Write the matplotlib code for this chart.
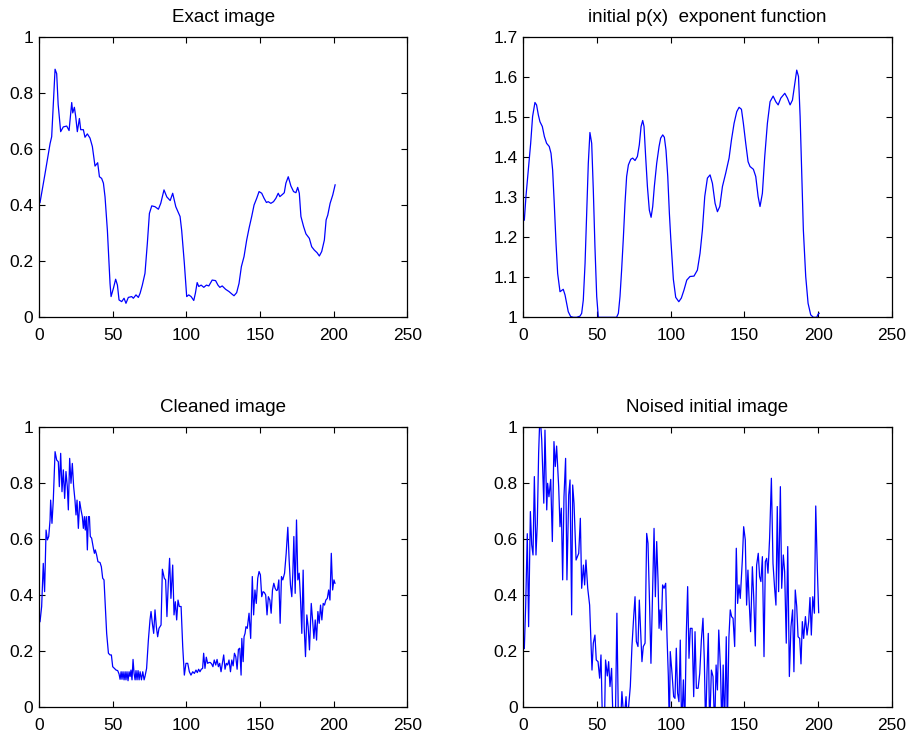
import matplotlib
matplotlib.use("Agg")
import matplotlib.pyplot as plt
from matplotlib.ticker import FuncFormatter

plt.rcParams['font.family'] = ['Liberation Sans', 'DejaVu Sans']

# ---------------- data ----------------
ex_x = [0.7, 4, 7.5, 8.6, 10.9, 12, 13, 14.7, 16.5, 18.8, 20.4, 22.2, 22.9, 24, 24.9, 26, 27.4, 28.3, 30.1, 31.2,
        32.8, 34.6, 36.2, 38, 39.8, 41, 42.5, 43.7, 44.8, 46.4, 48.2, 48.9, 50.5, 52, 53.2, 54.3, 56.1, 57.7, 59, 60.6,
        62.9, 64, 65.8, 67.4, 68.6, 70.1, 71.9, 73.5, 74.9, 76.5, 78.7, 81, 82.6, 84.8, 86.7, 89, 90.7, 92.8, 95.7, 96.8,
        98.6, 100.2, 101.6, 103.2, 105, 106.1, 107.3, 108.4, 110, 111.8, 113.6, 115.2, 117.5, 119.8, 121.4, 122.7, 124.3,
        126.6, 128.9, 131.1, 132.3, 134.1, 135.7, 137.3, 139.1, 140.9, 142.5, 144.3, 145.9, 147.7, 149.3, 151.1, 152.7,
        154.3, 155.5, 157.3, 159.1, 160.7, 162.3, 163.4, 165.2, 166.4, 167.5, 169.1, 170.9, 172.7, 174.3, 175.5, 176.6,
        177.7, 179.5, 181.1, 183.4, 185, 186.8, 188.6, 190.2, 191.8, 193.6, 194.8, 195.9, 197.5, 199.3, 200.9]
ex_y = [0.41, 0.51, 0.62, 0.645, 0.886, 0.87, 0.76, 0.663, 0.68, 0.683, 0.667, 0.767, 0.73, 0.75, 0.717, 0.663, 0.71,
        0.67, 0.67, 0.643, 0.655, 0.64, 0.61, 0.54, 0.552, 0.502, 0.496, 0.479, 0.43, 0.31, 0.12, 0.074, 0.104, 0.136,
        0.115, 0.062, 0.056, 0.068, 0.05, 0.071, 0.074, 0.068, 0.08, 0.071, 0.086, 0.115, 0.157, 0.264, 0.371, 0.398,
        0.395, 0.386, 0.407, 0.455, 0.43, 0.417, 0.443, 0.395, 0.36, 0.31, 0.193, 0.074, 0.08, 0.074, 0.06, 0.086,
        0.124, 0.11, 0.115, 0.107, 0.115, 0.112, 0.133, 0.131, 0.115, 0.107, 0.112, 0.1, 0.092, 0.082, 0.077, 0.088,
        0.121, 0.181, 0.217, 0.276, 0.318, 0.36, 0.401, 0.425, 0.449, 0.443, 0.425, 0.41, 0.413, 0.407, 0.413, 0.425,
        0.443, 0.431, 0.439, 0.445, 0.479, 0.502, 0.469, 0.449, 0.445, 0.464, 0.443, 0.36, 0.324, 0.298, 0.282, 0.252,
        0.24, 0.231, 0.219, 0.235, 0.276, 0.348, 0.365, 0.407, 0.437, 0.473]

px_x = [0.7, 1.8, 3.4, 5, 6.3, 7.9, 9, 10.2, 11.3, 12.9, 14.3, 15.8, 17.6, 18.8, 19.9, 21, 22.2, 23.3, 24.9, 26, 27.1,
        28.3, 29.4, 30.5, 32.1, 34, 36.2, 38.5, 39.6, 40.7, 41.9, 43, 44.1, 45.2, 46.4, 47.5, 48.6, 49.8, 50.9, 52, 63.3,
        64.5, 65.6, 66.7, 67.9, 69, 70.1, 71.3, 72.9, 74.2, 75.8, 77.4, 78.7, 79.9, 81, 81.9, 83, 84.2, 85.5, 86.7, 87.8,
        88.9, 90.5, 92.1, 93.2, 94.6, 95.7, 96.8, 98, 99.1, 100, 101.8, 103.4, 105.5, 107.2, 109, 110.9, 113.1, 115.8,
        118.1, 119.9, 121.5, 123.1, 124.9, 126.7, 128.3, 130.1, 131.7, 133.3, 135.1, 137.3, 139.6, 141.2, 143, 144.8,
        146.4, 148, 149.3, 150.9, 152.5, 153.8, 156.1, 157.7, 159.3, 160.6, 162.2, 163.8, 165.6, 167.4, 169.5, 171.3,
        172.9, 174.7, 177.4, 179.2, 181, 182.6, 184.2, 185.5, 186.7, 187.8, 188.9, 190, 191.6, 193.2, 195, 196.8,
        199.1, 200, 200.7]
px_y = [1.243, 1.302, 1.368, 1.435, 1.502, 1.537, 1.531, 1.506, 1.489, 1.477, 1.452, 1.435, 1.427, 1.41, 1.368, 1.285,
        1.185, 1.11, 1.064, 1.067, 1.07, 1.056, 1.035, 1.014, 1.002, 1.0, 1.0, 1.003, 1.01, 1.043, 1.135, 1.26, 1.385,
        1.462, 1.435, 1.318, 1.177, 1.052, 1.0, 1.0, 1.0, 1.01, 1.052, 1.118, 1.2, 1.285, 1.352, 1.381, 1.395, 1.398,
        1.392, 1.402, 1.431, 1.477, 1.492, 1.477, 1.402, 1.327, 1.268, 1.25, 1.277, 1.327, 1.385, 1.427, 1.448, 1.456,
        1.45, 1.418, 1.352, 1.26, 1.2, 1.095, 1.05, 1.039, 1.048, 1.068, 1.093, 1.102, 1.103, 1.118, 1.16, 1.218,
        1.302, 1.348, 1.356, 1.335, 1.285, 1.264, 1.277, 1.327, 1.36, 1.398, 1.443, 1.485, 1.514, 1.525, 1.52, 1.485,
        1.435, 1.389, 1.377, 1.37, 1.352, 1.302, 1.277, 1.31, 1.402, 1.485, 1.539, 1.553, 1.539, 1.531, 1.548, 1.56,
        1.548, 1.531, 1.543, 1.585, 1.618, 1.602, 1.502, 1.36, 1.218, 1.102, 1.035, 1.006, 1.0, 1.0, 1.008, 1.01]

cl_x = [0.7, 1.8, 2.9, 3.8, 4.8, 5.7, 6.6, 7.5, 7.9, 8.8, 9.7, 10.9, 12, 13.1, 13.8, 14.7, 15.6, 16.5, 17.4, 18.3,
        19.2, 19.9, 20.8, 21.7, 22.6, 23.5, 24.4, 25.1, 25.8, 26.7, 27.6, 28.5, 29.4, 30.1, 30.8, 31.4, 32.1, 32.8,
        33.5, 34.2, 34.8, 35.7, 36.9, 37.6, 38.2, 39.1, 40, 41.4, 42.3, 43.2, 44.1, 45, 45.9, 47.1, 48.2, 49.1, 50,
        51.1, 52.3, 53.4, 54.3, 55, 55.7, 56.3, 57, 57.7, 58.4, 59, 59.7, 60.4, 61.1, 61.8, 62.4, 63.1, 63.8, 64.5,
        65.2, 65.8, 66.5, 67.2, 67.9, 68.6, 69.5, 70.4, 71.3, 71.9, 73, 74.2, 75.3, 76, 76.9, 77.8, 78.7, 79.6, 80.5,
        81.4, 82.8, 83.7, 85, 85.9, 86.8, 87.7, 88.6, 89.5, 90.7, 91.6, 92.5, 93.4, 94.3, 95.2, 96.4, 97.5, 98.6, 99.7,
        100.9, 102, 103.1, 104.3, 105.4, 106.5, 107.4, 108.3, 109.2, 110.1, 111, 111.7, 112.6, 113.5, 114.4, 115.3,
        116.2, 117.1, 118, 118.9, 119.9, 120.8, 121.7, 122.6, 123.5, 124.4, 125.3, 126.2, 127.1, 128, 128.9, 129.9,
        130.8, 131.7, 132.6, 133.5, 134.4, 135.3, 136.2, 137.1, 137.6, 138.5, 139.1, 139.8, 140.4, 141.3, 142.5, 143.6,
        144.7, 145.6, 146.5, 147.4, 148.4, 149.3, 150.2, 151.1, 152, 152.9, 153.8, 154.7, 155.6, 156.6, 157.5, 158.4,
        159.3, 160.2, 161.1, 161.8, 162.7, 163.6, 164.5, 165.4, 166.6, 167.7, 168.8, 169.7, 170.6, 171.5, 172.2, 172.9,
        173.8, 174.7, 175.6, 176.5, 177.4, 178.3, 179.2, 179.9, 180.8, 181.7, 182.6, 183.5, 184.7, 185.6, 186.5, 187.4,
        188.3, 189.2, 190.1, 191, 191.9, 192.8, 193.7, 194.6, 195.6, 196.5, 197.4, 198.3, 199.2, 200.1, 200.8]
cl_y = [0.306, 0.36, 0.514, 0.413, 0.633, 0.598, 0.61, 0.669, 0.74, 0.657, 0.74, 0.913, 0.883, 0.877, 0.788, 0.907,
        0.77, 0.848, 0.746, 0.842, 0.788, 0.705, 0.889, 0.8, 0.871, 0.788, 0.74, 0.687, 0.74, 0.639, 0.735, 0.705,
        0.681, 0.639, 0.681, 0.633, 0.681, 0.562, 0.681, 0.681, 0.61, 0.604, 0.568, 0.55, 0.562, 0.544, 0.52, 0.517,
        0.502, 0.461, 0.455, 0.36, 0.264, 0.193, 0.187, 0.187, 0.145, 0.139, 0.133, 0.131, 0.119, 0.1, 0.127, 0.1,
        0.127, 0.098, 0.127, 0.098, 0.127, 0.095, 0.127, 0.11, 0.133, 0.098, 0.171, 0.121, 0.098, 0.131, 0.098, 0.131,
        0.098, 0.127, 0.098, 0.127, 0.098, 0.11, 0.139, 0.24, 0.312, 0.342, 0.3, 0.264, 0.348, 0.288, 0.252, 0.282,
        0.294, 0.493, 0.461, 0.455, 0.324, 0.443, 0.532, 0.389, 0.508, 0.33, 0.377, 0.312, 0.383, 0.36, 0.36, 0.217,
        0.115, 0.157, 0.157, 0.127, 0.115, 0.127, 0.121, 0.133, 0.124, 0.136, 0.127, 0.136, 0.139, 0.193, 0.139, 0.179,
        0.157, 0.16, 0.16, 0.155, 0.145, 0.169, 0.151, 0.171, 0.145, 0.157, 0.127, 0.157, 0.187, 0.136, 0.157, 0.151,
        0.169, 0.127, 0.169, 0.148, 0.193, 0.181, 0.136, 0.207, 0.211, 0.115, 0.246, 0.163, 0.252, 0.264, 0.288, 0.282,
        0.336, 0.246, 0.467, 0.33, 0.419, 0.371, 0.461, 0.485, 0.473, 0.395, 0.413, 0.41, 0.401, 0.33, 0.395, 0.383,
        0.336, 0.419, 0.443, 0.425, 0.417, 0.419, 0.455, 0.3, 0.467, 0.455, 0.479, 0.55, 0.643, 0.526, 0.437, 0.395,
        0.479, 0.61, 0.407, 0.669, 0.455, 0.479, 0.389, 0.264, 0.49, 0.288, 0.181, 0.33, 0.288, 0.205, 0.371, 0.312,
        0.246, 0.312, 0.24, 0.342, 0.3, 0.365, 0.312, 0.371, 0.365, 0.383, 0.389, 0.419, 0.383, 0.55, 0.419, 0.455,
        0.443]

no_x = [0.7, 1.6, 2.7, 3.6, 4.8, 5.7, 6.6, 7.5, 8.6, 9.5, 10.4, 11.3, 12.5, 13.9, 14.7, 15.9, 16.5, 17.4, 18.6, 19.7,
        20.8, 21.7, 22.6, 24, 24.9, 25.8, 26.7, 27.6, 28.7, 29.6, 30.8, 31.7, 32.8, 33.5, 34.4, 35.8, 36.7, 37.6, 38.7,
        39.6, 40.8, 41.6, 42.5, 43.7, 45, 46.6, 47.5, 48.6, 49.5, 50.7, 51.8, 52.7, 53.8, 55, 55.8, 57, 57.9, 58.8,
        59.9, 61, 62.4, 63.5, 64.6, 65.8, 66.9, 68.3, 69.7, 70.6, 71.7, 72.6, 73.7, 74.9, 75.8, 76.7, 77.8, 78.7, 79.6,
        80.5, 81.4, 82.6, 83.7, 84.6, 85.7, 86.6, 87.8, 88.7, 89.6, 90.5, 91.4, 92.1, 92.8, 93.6, 94.5, 95.5, 96.6,
        97.5, 98.4, 99.1, 99.7, 100.9, 102, 102.9, 103.8, 104.7, 105.6, 106.5, 107.4, 108.6, 109.5, 110.6, 111.5,
        112.4, 113.3, 114.5, 115.6, 116.5, 117.4, 118.6, 119.7, 120.8, 121.9, 122.8, 123.7, 124.6, 125.5, 126.4,
        127.6, 128.7, 129.8, 130.8, 131.7, 132.6, 133.8, 134.7, 135.6, 136.5, 137.7, 138.4, 139.5, 140.4, 141.3,
        142.3, 143.4, 144.5, 145.4, 146.3, 147.2, 148.6, 149.5, 150.6, 151.5, 152.4, 153.3, 154.2, 155.4, 156.3,
        157.4, 158.3, 159.4, 160.3, 161.2, 162.2, 163.3, 164.2, 165.1, 166, 167.1, 168.3, 169.4, 170.5, 171.4, 172.3,
        173.2, 174.4, 175.3, 176.4, 177.3, 178.4, 179.4, 180.5, 181.6, 182.7, 183.6, 184.5, 185.5, 186.4, 187.5,
        188.4, 189.3, 190.2, 191.4, 192.5, 193.6, 194.5, 195.4, 196.4, 197.5, 198.4, 199.5, 200.4]
no_y = [0.21, 0.36, 0.62, 0.288, 0.699, 0.58, 0.544, 0.824, 0.544, 0.657, 0.907, 1.05, 0.955, 0.729, 0.99, 0.705, 0.8,
        0.752, 0.814, 0.592, 0.949, 0.86, 0.933, 0.788, 0.645, 0.711, 0.455, 0.752, 0.889, 0.455, 0.758, 0.812, 0.33,
        0.794, 0.729, 0.526, 0.538, 0.55, 0.675, 0.425, 0.508, 0.437, 0.526, 0.425, 0.365, 0.133, 0.229, 0.258, 0.169,
        0.163, 0.104, 0.187, -0.08, -0.08, 0.169, 0.112, 0.163, 0.074, 0.139, -0.08, -0.08, 0.336, -0.08, -0.08, 0.056,
        -0.05, 0.038, -0.05, 0.02, 0.074, 0.217, 0.324, 0.395, 0.235, 0.217, 0.383, 0.276, 0.163, 0.217, 0.229, 0.621,
        0.586, 0.36, 0.157, 0.431, 0.639, 0.395, 0.592, 0.455, 0.282, 0.348, 0.276, 0.437, 0.425, 0.443, 0.252, 0.11,
        -0.08, 0.199, 0.121, 0.038, 0.032, 0.211, 0.05, 0.02, 0.24, -0.08, 0.098, -0.08, 0.264, 0.431, 0.175, 0.282,
        0.282, 0.038, 0.27, 0.068, 0.068, 0.121, 0.24, 0.318, 0.169, -0.08, 0.121, 0.264, -0.08, 0.133, 0.11, -0.08,
        0.151, 0.062, 0.276, 0.133, -0.08, 0.151, -0.08, 0.252, -0.08, 0.252, 0.348, 0.324, 0.318, 0.217, 0.568, 0.371,
        0.437, 0.389, 0.526, 0.645, 0.598, 0.365, 0.49, 0.371, 0.27, 0.502, 0.395, 0.219, 0.508, 0.55, 0.467, 0.449,
        0.538, 0.181, 0.52, 0.532, 0.479, 0.604, 0.818, 0.514, 0.425, 0.365, 0.717, 0.413, 0.788, 0.425, 0.544, 0.485,
        0.229, 0.574, 0.11, 0.288, 0.348, 0.127, 0.419, 0.36, 0.252, 0.246, 0.155, 0.306, 0.246, 0.324, 0.258, 0.306,
        0.392, 0.258, 0.395, 0.336, 0.719, 0.49, 0.338]

titles = ["Exact image", "initial p(x)  exponent function", "Cleaned image", "Noised initial image"]
x_ticks = [0, 50, 100, 150, 200, 250]
y_ticks_img = [0, 0.2, 0.4, 0.6, 0.8, 1]
y_ticks_p = [1, 1.1, 1.2, 1.3, 1.4, 1.5, 1.6, 1.7]

# ---------------- figure ----------------
fig = plt.figure(figsize=(9.12, 7.4), dpi=100)
W, H = 912, 740
def rect(l, t, r, b):
    return [l / W, 1 - b / H, (r - l) / W, (b - t) / H]

boxes = [rect(39, 37.3, 407.5, 317.3), rect(523.3, 37.3, 891.8, 317.3),
         rect(39, 427.3, 407.5, 707.3), rect(523.3, 427.3, 891.8, 707.3)]
series = [(ex_x, ex_y), (px_x, px_y), (cl_x, cl_y), (no_x, no_y)]
fmt = FuncFormatter(lambda v, p: f"{v:g}")

for i, (box, (xs, ys), title) in enumerate(zip(boxes, series, titles)):
    ax = fig.add_axes(box)
    ax.plot(xs, ys, color='#0000ff', lw=0.9)
    ax.set_xlim(0, 250)
    ax.set_xticks(x_ticks)
    if i == 1:
        ax.set_ylim(1, 1.7)
        ax.set_yticks(y_ticks_p)
    else:
        ax.set_ylim(0, 1)
        ax.set_yticks(y_ticks_img)
    ax.xaxis.set_major_formatter(fmt)
    ax.yaxis.set_major_formatter(fmt)
    ax.tick_params(direction='in', top=True, right=True, length=4, width=0.8,
                   labelsize=12.5, colors='black')
    ax.tick_params(axis='x', pad=7.5)
    ax.tick_params(axis='y', pad=4)
    for s in ax.spines.values():
        s.set_linewidth(0.9)
    ax.set_title(title, fontsize=13.5, pad=11)

fig.savefig("out.png", dpi=100)
